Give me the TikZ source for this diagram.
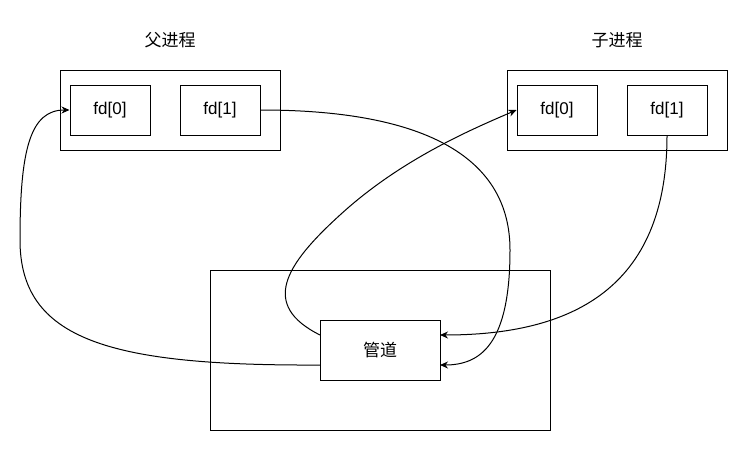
\documentclass[tikz,border=0pt]{standalone}
\usepackage{fontspec}
\setmainfont{Liberation Sans}
\newfontfamily\cjk{Noto Sans CJK SC}
\usetikzlibrary{arrows.meta}
\begin{document}
\begin{tikzpicture}[x=1pt,y=-1pt,
  box/.style={draw, line width=1pt, inner sep=0pt, minimum width=#1},
  fdbox/.style={box=80pt, minimum height=50pt, font=\fontsize{17}{19}\selectfont},
  lbl/.style={font=\cjk\fontsize{17}{19}\selectfont},
  conn/.style={line width=1pt, -{Stealth[length=8pt,width=7pt]}}]
\useasboundingbox (0,0) rectangle (749,452);
% parent
\node[lbl] (plabel) at (170,40) {父进程};
\node[box=220pt, minimum height=80pt] (pbox) at (170,110) {};
\node[fdbox] (pf0) at (110,110) {fd[0]};
\node[fdbox] (pf1) at (220,110) {fd[1]};
% child
\node[lbl] (clabel) at (617,40) {子进程};
\node[box=220pt, minimum height=80pt] (cbox) at (617,110) {};
\node[fdbox] (cf0) at (557,110) {fd[0]};
\node[fdbox] (cf1) at (667,110) {fd[1]};
% pipe
\node[box=340pt, minimum height=160pt] (outer) at (380,350) {};
\node[box=120pt, minimum height=60pt, lbl] (pipe) at (380,350) {管道};
\coordinate (pipeR1) at (440,335);
\coordinate (pipeR2) at (440,365);
\coordinate (pipeL1) at (320,335);
\coordinate (pipeL2) at (320,365);
% connectors
\draw[conn] (pf1.east) .. controls (430,110) and (510,160) .. (510,250)
  .. controls (510,345) and (480,365) .. (pipeR2);
\draw[conn] (cf1.south) .. controls (667,290) and (570,335) .. (pipeR1);
\draw[conn] (pipeL2) .. controls (110,366) and (20,340) .. (20,240)
  .. controls (20,150) and (30,110) .. (pf0.west);
\draw[conn] (pipeL1) .. controls (260,305) and (285,265) .. (340,215)
  .. controls (400,160) and (470,130) .. (cf0.west);
\end{tikzpicture}
\end{document}
